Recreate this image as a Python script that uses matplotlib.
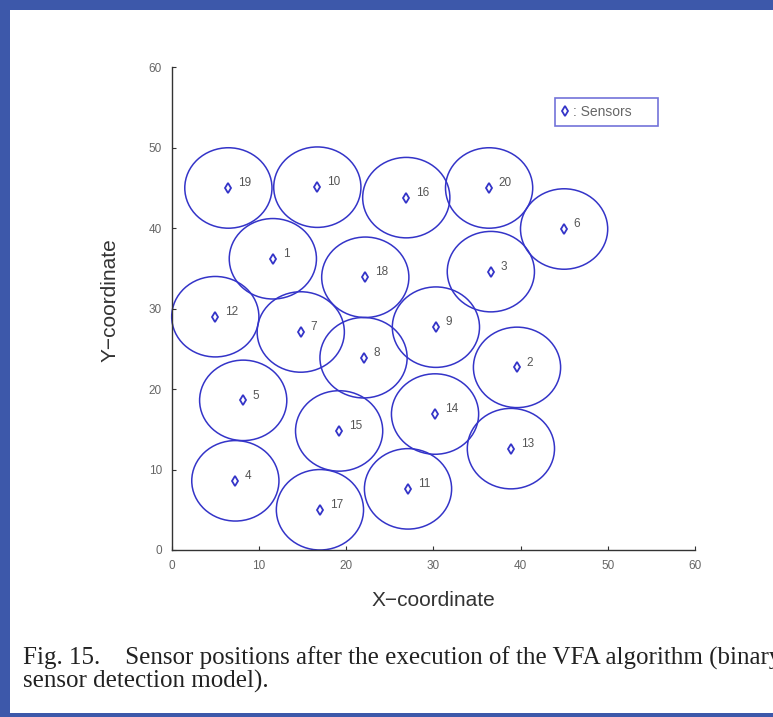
import numpy as np
import matplotlib
matplotlib.use("Agg")
import matplotlib.pyplot as plt
from matplotlib.patches import Circle, Rectangle
from matplotlib.lines import Line2D

# sensor ids and final positions
sensor_ids = list(range(1, 21))
sensor_x = [11.6, 39.6, 36.6, 7.3, 8.2, 45.0, 14.8, 22.0, 30.3, 16.7,
            27.1, 5.0, 38.9, 30.2, 19.2, 26.9, 17.0, 22.2, 6.5, 36.4]
sensor_y = [36.2, 22.7, 34.6, 8.6, 18.6, 39.9, 27.1, 23.9, 27.7, 45.1,
            7.6, 29.0, 12.6, 16.9, 14.8, 43.8, 5.0, 33.9, 45.0, 45.0]
sensing_range = 5.0
axis_ticks = [0, 10, 20, 30, 40, 50, 60]

caption_1 = "Fig. 15.    Sensor positions after the execution of the VFA algorithm (binary"
caption_2 = "sensor detection model)."

W, H = 773, 717
blue = '#3d58aa'
circ_col = '#3434c8'

fig = plt.figure(figsize=(W / 100, H / 100), dpi=100, facecolor=blue)
# white slide panel
fig.patches.append(Rectangle((10 / W, 1 - 713 / H), (W - 10) / W, (713 - 10) / H,
                             transform=fig.transFigure, facecolor='white',
                             edgecolor='none', zorder=-10))

ax = fig.add_axes([171.7 / W, 1 - 550 / H, 523.2 / W, 482.7 / H])
ax.patch.set_alpha(0)

for x, y, sid in zip(sensor_x, sensor_y, sensor_ids):
    ax.add_patch(Circle((x, y), sensing_range, fill=False, edgecolor=circ_col,
                        linewidth=1.1, clip_on=False))
    ax.annotate(str(sid), (x, y), xytext=(7, 3.5), textcoords='offset points',
                fontsize=8.5, color='#555555', va='center', ha='left',
                family='Liberation Sans')

ax.plot(sensor_x, sensor_y, linestyle='none', marker='d', markersize=5,
        markerfacecolor='none', markeredgecolor=circ_col, markeredgewidth=1.3,
        clip_on=False)

ax.set_xlim(0, 60)
ax.set_ylim(0, 60)
ax.set_xticks(axis_ticks)
ax.set_yticks(axis_ticks)
for s in ['top', 'right']:
    ax.spines[s].set_visible(False)
for s in ['left', 'bottom']:
    ax.spines[s].set_color('#333333')
    ax.spines[s].set_linewidth(1.0)
ax.tick_params(direction='in', length=3, width=0.8, color='#333333',
               labelsize=8.5, labelcolor='#666666', pad=7)
for lab in ax.get_xticklabels() + ax.get_yticklabels():
    lab.set_family('Liberation Sans')

ax.set_xlabel("X\u2212coordinate", fontsize=15, color='#333333', family='Liberation Sans')
ax.set_ylabel("Y\u2212coordinate", fontsize=15, color='#333333', family='Liberation Sans')
ax.xaxis.set_label_coords(0.5, -0.1036)
ax.xaxis.label.set_verticalalignment('center')
ax.yaxis.set_label_coords(-0.118, 0.518)
ax.yaxis.label.set_verticalalignment('center')

handle = Line2D([], [], linestyle='none', marker='d', markersize=5,
                markerfacecolor='none', markeredgecolor=circ_col, markeredgewidth=1.3)
leg = ax.legend([handle], [": Sensors     "], loc='upper left',
                bbox_to_anchor=(555 / W, 1 - 98 / H), bbox_transform=fig.transFigure,
                borderaxespad=0, frameon=True, fancybox=False, handlelength=0.4,
                handletextpad=0.4, borderpad=0.5, prop={'family': 'Liberation Sans', 'size': 10})
leg.get_frame().set_edgecolor('#5050d0')
leg.get_frame().set_linewidth(1.2)
for t in leg.get_texts():
    t.set_color('#666666')

fig.text(23 / W, 1 - 665 / H, caption_1, fontsize=18, family='Liberation Serif',
         color='#222222', va='baseline', ha='left')
fig.text(23 / W, 1 - 688 / H, caption_2, fontsize=18, family='Liberation Serif',
         color='#222222', va='baseline', ha='left')

fig.savefig('out.png', dpi=100, facecolor=blue)
